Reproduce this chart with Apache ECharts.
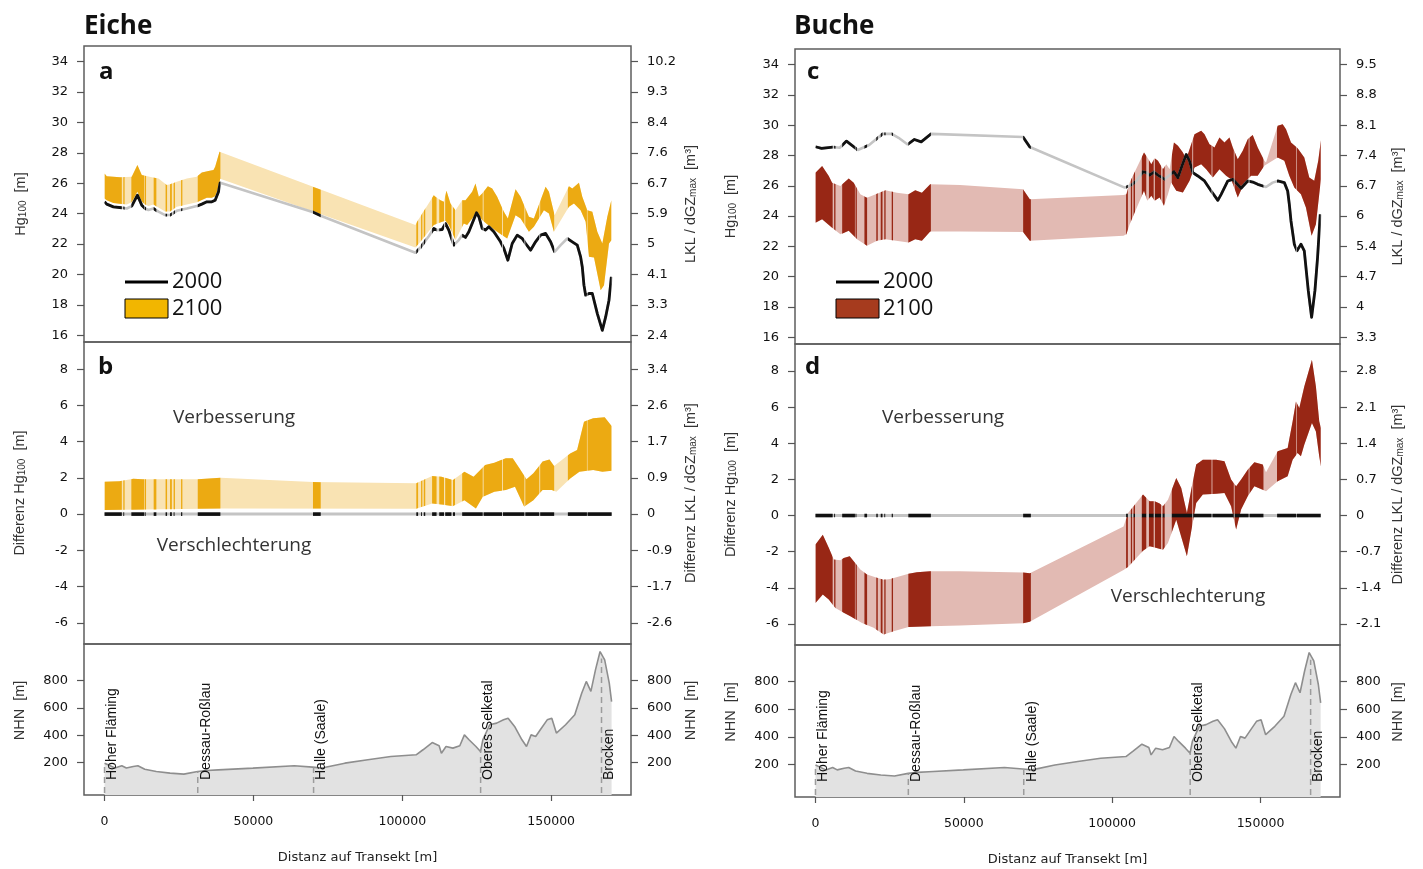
<!DOCTYPE html>
<html><head><meta charset="utf-8">
<script src="https://cdn.jsdelivr.net/npm/echarts@6/dist/echarts.min.js"></script>
<style>html,body{margin:0;padding:0;background:#fff}#c{width:1423px;height:869px}</style>
</head><body><div id="c"></div>
<script>
// ---------------- DATA ----------------
const TRANSECT = [0, 170300];
// stretches of the transect with simulated stands (drawn dark / black)
const SEGMENTS = [
  [0,5800],[6300,6600],[9000,13300],[13500,13800],[16500,17400],[20500,21000],[22000,22600],[23200,23500],
  [25700,26100],[31300,38900],[70000,72600],[104700,105300],[106300,106600],[107200,107700],
  [110000,111500],[112400,114000],[114400,116500],[117000,117700],
  [120100,127000],[127300,133500],[133800,141000],[141300,146000],[146300,151000],
  [155600,162000],[162200,170300]
];
const X_TICKS = [0, 50000, 100000, 150000];
const HG_TICKS = [16,18,20,22,24,26,28,30,32,34];
const LKL_EICHE_LABELS = ['2.4','3.3','4.1','5','5.9','6.7','7.6','8.4','9.3','10.2'];
const LKL_BUCHE_LABELS = ['3.3','4','4.7','5.4','6','6.7','7.4','8.1','8.8','9.5'];
const DIFF_TICKS = [-6,-4,-2,0,2,4,6,8];
const DIFF_LKL_EICHE_LABELS = ['-2.6','-1.7','-0.9','0','0.9','1.7','2.6','3.4'];
const DIFF_LKL_BUCHE_LABELS = ['-2.1','-1.4','-0.7','0','0.7','1.4','2.1','2.8'];
const NHN_TICKS = [200,400,600,800];

// Eiche (oak)
const EICHE_2000 = [[0,24.78],[730,24.63],[2970,24.45],[5770,24.39],[7450,24.34],[9130,24.5],[11040,25.22],[12500,24.56],[13620,24.34],[14740,24.24],[16420,24.34],[18100,24.13],[20340,23.91],[22020,23.91],[24260,24.19],[27630,24.34],[30990,24.5],[32670,24.63],[34350,24.78],[36030,24.78],[37150,24.89],[38270,25.44],[38830,26.03],
  [70100,24.1],[72800,23.85],
  [104400,21.43],[106090,21.78],[108890,22.52],[110570,23.03],[111690,22.92],[113370,22.96],[114490,23.36],[115610,22.92],[117290,21.93],[118970,22.26],[120090,22.59],[121220,22.44],[122340,22.81],[123460,23.36],[124920,24.06],[125700,23.8],[126820,23.03],[127940,22.92],[129060,23.14],[130740,22.81],[132980,22.15],[134110,21.71],[135450,20.94],[136910,22.04],[138590,22.59],[140270,22.37],[141390,22.04],[143070,21.6],[144750,22.15],[146430,22.59],[148120,22.7],[149800,22.15],[151140,21.49],[153160,21.93],[155400,22.37],[157080,22.15],[158760,21.93],[159880,21.16],[160440,20.5],[161000,19.3],[161570,18.64],[162690,18.75],[163810,18.75],[165490,17.43],[167170,16.33],[168290,17.21],[169410,18.31],[170200,19.85]];
const EICHE_2100_UP = [[0,26.65],[730,26.47],[5210,26.39],[9130,26.43],[11040,27.2],[12500,26.54],[15860,26.39],[18100,26.32],[20900,25.88],[22020,25.94],[24260,26.1],[27630,26.32],[30990,26.43],[32670,26.71],[34910,26.8],[36590,26.87],[37150,27.09],[38610,28.07],
  [104400,23.25],[104960,23.47],[110570,25.22],[111130,25.11],[112810,24.89],[113930,24.78],[114830,25.51],[116170,24.67],[117850,24.23],[120090,24.89],[121220,24.89],[123460,25.44],[124580,25.99],[125700,25.11],[126820,25.33],[128730,25.81],[130180,25.66],[131860,25.11],[134110,24.12],[135450,23.69],[138030,25.6],[139710,25.11],[142510,23.8],[144190,23.69],[146430,24.89],[148120,25.77],[149240,25.44],[151140,23.9],[155960,25.81],[157080,25.66],[159320,26.03],[160440,25.11],[162120,24.23],[163810,24.12],[165490,22.81],[167170,22.04],[168850,23.8],[170200,24.89]];
const EICHE_2100_LO = [[0,25.0],[730,24.88],[2970,24.7],[5770,24.64],[7450,24.6],[9130,24.75],[11040,25.45],[12500,24.8],[13620,24.6],[14740,24.5],[16420,24.6],[18100,24.4],[20340,24.15],[22020,24.15],[24260,24.45],[27630,24.6],[30990,24.75],[32670,24.9],[34350,25.05],[36030,25.05],[37150,25.15],[38270,25.7],[38830,26.3],
  [104400,21.78],[106090,22.15],[110570,23.25],[113370,23.47],[114490,23.53],[115610,23.25],[117850,22.26],[120650,23.36],[121780,23.25],[123460,23.69],[125150,24.02],[126820,23.58],[128500,23.31],[131860,22.81],[135220,22.37],[138030,23.9],[139710,23.69],[142510,22.81],[144190,23.14],[147560,24.23],[149240,24.02],[150920,22.81],[155960,24.45],[157640,24.67],[159880,24.23],[161570,23.47],[162690,21.16],[164370,21.12],[166610,18.97],[167730,19.3],[169410,22.04],[170200,22.26]];
const EICHE_DIFF_UP = [[0,1.79],[5020,1.82],[9650,1.95],[12740,1.92],[23550,1.92],[31270,1.92],[38990,2.0],[69890,1.77],[104640,1.7],[110040,2.1],[113130,2.06],[116990,1.88],[120850,2.34],[123940,2.06],[127810,2.71],[130900,2.84],[134760,3.08],[137080,3.08],[139390,2.52],[141710,1.92],[144020,2.25],[147110,2.9],[149430,3.02],[150970,2.65],[156380,3.35],[158700,3.54],[161020,5.1],[164100,5.29],[167960,5.35],[170280,4.87]];
const EICHE_DIFF_LO = [[0,0.22],[38990,0.31],[104640,0.3],[110040,0.59],[113130,0.53],[116990,0.44],[120850,0.77],[124720,0.31],[127030,0.96],[130900,1.24],[134760,1.33],[137840,1.51],[140930,0.41],[144020,0.77],[147110,1.33],[150200,1.33],[151740,1.24],[156380,1.97],[159470,2.34],[164100,2.43],[167190,2.34],[170280,2.4]];

// Buche (beech)
const BUCHE_2000 = [[0,28.58],[2070,28.47],[5880,28.56],[8170,28.51],[10460,28.95],[14280,28.36],[18090,28.69],[22670,29.43],[25720,29.43],[28010,29.17],[31060,28.73],[33350,29.06],[35640,28.9],[38990,29.43],[69960,29.22],[72250,28.56],
  [104240,25.88],[106480,26.05],[108160,26.32],[110400,26.93],[111520,26.87],[112640,26.71],[114100,26.91],[115440,26.71],[117690,26.43],[119370,26.71],[120830,26.93],[122170,26.54],[123520,27.31],[124970,28.07],[126090,27.63],[127210,26.87],[128890,26.65],[131130,26.32],[133370,25.66],[135620,25.04],[136740,25.44],[138980,26.32],[140660,26.43],[143460,25.84],[145700,26.32],[147380,26.25],[149060,26.1],[151860,25.92],[154100,26.21],[155800,26.32],[158040,26.21],[159160,25.66],[159720,24.78],[160280,23.68],[161400,22.15],[162300,21.71],[163640,22.15],[164760,21.71],[166110,19.08],[167230,17.32],[168350,19.08],[169240,21.27],[170140,24.12]];
const BUCHE_2100_UP = [[0,26.87],[2240,27.3],[4480,26.65],[5600,26.21],[8400,25.99],[11210,26.49],[12890,26.21],[15130,25.44],[17370,25.22],[20730,25.48],[23540,25.7],[27460,25.55],[31380,25.44],[33630,25.7],[35870,25.55],[38670,26.1],[48750,26.05],
  [69960,25.77],[72250,25.11],[103830,25.4],
  [104800,25.45],[105920,26.22],[110740,28.2],[111860,27.87],[113200,27.43],[114320,27.82],[115440,27.65],[117120,27.1],[118250,27.43],[119370,27.1],[120830,28.86],[122170,28.64],[123850,28.2],[124970,27.76],[126090,28.42],[127770,29.41],[130010,29.63],[131130,29.41],[132810,28.75],[134490,28.53],[136170,29.19],[137860,28.86],[139540,29.19],[140660,28.53],[142340,27.76],[144020,28.31],[145700,29.08],[147380,29.36],[149060,28.53],[151300,27.65],[151860,27.54],[155800,29.96],[157480,30.07],[158600,29.74],[160280,28.86],[162520,28.48],[164760,27.87],[166440,26.55],[168120,26.33],[169470,27.65],[170360,29.01]];
const BUCHE_2100_LO = [[0,23.57],[2240,23.79],[5600,23.24],[8400,22.8],[11210,23.03],[14010,22.48],[17370,22.04],[20730,22.37],[23540,22.48],[31380,22.26],[33630,22.48],[35870,22.37],[38670,22.98],[48750,22.98],
  [69960,22.96],[72250,22.37],[103830,22.7],
  [104800,22.81],[105920,23.47],[110740,25.67],[111860,25.01],[113200,25.34],[114320,25.01],[116000,25.23],[117460,24.68],[118810,25.45],[119930,26.22],[121610,25.67],[123850,25.56],[126090,26.33],[127770,27.21],[130010,27.43],[131690,27.1],[133930,26.55],[136170,27.1],[138420,26.66],[140100,26.44],[142340,25.23],[144580,26.22],[146820,26.66],[149060,26.66],[151300,27.32],[155800,27.87],[158040,27.65],[159720,26.66],[161400,25.89],[163640,25.45],[165320,24.57],[167230,22.7],[168680,23.47],[169800,25.45],[170360,26.44]];
const BUCHE_DIFF_UP = [[0,-1.61],[2470,-1.06],[4480,-1.79],[6160,-2.44],[8400,-2.48],[9530,-2.35],[11540,-2.26],[12890,-2.53],[15130,-2.99],[17370,-3.27],[20730,-3.45],[22980,-3.55],[25220,-3.51],[31380,-3.22],[34180,-3.14],[38670,-3.09],[48750,-3.09],
  [69960,-3.16],[72250,-3.2],[103830,-0.61],
  [105360,0.14],[110400,1.16],[112640,0.79],[114320,0.79],[116000,0.66],[117130,0.51],[118810,0.88],[121610,2.08],[123290,1.52],[125200,0.14],[126650,1.43],[128330,2.82],[130570,3.09],[135060,3.09],[137860,3.0],[140100,1.99],[141790,1.62],[143470,1.99],[145700,2.54],[147940,2.95],[150750,2.82],[151870,2.4],[155790,3.56],[159150,3.74],[160840,5.22],[161960,6.32],[163080,5.95],[164760,7.15],[167340,8.63],[168680,7.15],[169800,5.22],[170360,4.85]];
const BUCHE_DIFF_LO = [[0,-4.84],[2470,-4.38],[4480,-4.65],[6730,-5.12],[9530,-5.39],[11770,-5.58],[15690,-5.95],[19610,-6.22],[22980,-6.59],[26340,-6.41],[31380,-6.17],[38670,-6.13],[48750,-6.09],
  [69960,-5.97],[72250,-5.88],[103830,-3.01],
  [105360,-2.85],[110400,-1.95],[112640,-1.7],[117130,-1.89],[118810,-1.52],[121610,-0.23],[125200,-2.26],[126650,-0.87],[128330,0.7],[130570,1.16],[135060,1.21],[137860,1.25],[140100,0.51],[141790,-0.78],[143470,0.33],[145700,1.07],[147940,1.62],[150750,1.43],[151870,1.34],[155790,1.9],[159150,2.17],[160840,3.09],[162500,3.46],[163630,3.28],[164760,3.92],[167340,5.12],[168680,4.66],[169800,3.28],[170360,2.72]];

// elevation profile along the transect
const NHN_PROFILE = [[0,195],[1160,183],[3470,159],[5790,176],[7330,159],[9650,171],[11200,176],[13510,151],[17380,134],[22010,122],[26640,115],[31270,134],[34360,141],[38220,146],[49810,159],[63710,176],[69890,166],[72980,159],[80700,195],[88420,220],[96140,244],[104640,256],[106950,293],[110040,346],[112360,322],[113130,268],[114680,317],[116990,305],[119310,322],[120850,402],[122400,366],[124720,317],[126260,280],[127040,366],[129350,476],[131670,488],[133990,512],[135530,524],[137840,459],[140170,366],[141710,317],[143250,402],[144790,390],[146340,439],[148660,512],[150200,524],[151740,415],[154830,476],[157920,549],[160240,707],[161780,793],[163330,720],[164870,878],[166410,1012],[167960,951],[169500,780],[170280,646]];
const PLACE_NAMES = ['Hoher Fläming','Dessau-Roßlau','Halle (Saale)','Oberes Selketal','Brocken'];
const PLACE_X = [0, 31300, 70200, 126300, 166900];
const PLACE_H = [195, 134, 163, 285, 960];

// ---------------- SETTINGS ----------------
const X_RANGE = [-6900, 176800];
const HG_RANGE = [15.56, 35.03];
const DIFF_RANGE = [-7.17, 9.5];
const NHN_RANGE = [-38, 1067];
const TICK_FONT = 'DejaVu Sans';
const NAME_FONT = 'Liberation Sans';
const C = {
  eicheDark:'#ECAA12', eicheLight:'#F9E3B3', eicheLegend:'#F2B600',
  bucheDark:'#982715', bucheLight:'#E2BAB3', bucheLegend:'#A63B1E',
  line2000:'#111111', lineGap:'#c4c4c4', frame:'#5e5e5e'
};

const gridBase = {show:true, borderColor:C.frame, borderWidth:1.5, backgroundColor:'transparent'};
const grids = [
  {left:84, top:46, width:547, height:296},
  {left:84, top:342, width:547, height:302},
  {left:84, top:644, width:547, height:151},
  {left:795, top:49, width:545, height:295},
  {left:795, top:344, width:545, height:301},
  {left:795, top:645, width:545, height:152}
].map(g => Object.assign({}, gridBase, g));

function xAxisFor(gi, showLabels) {
  return {
    type:'value', gridIndex:gi, min:X_RANGE[0], max:X_RANGE[1], position:'bottom',
    splitLine:{show:false}, axisLine:{show:false, onZero:false},
    axisTick:{show:showLabels, inside:false, customValues:X_TICKS, length:6, lineStyle:{color:'#555', width:1.2}},
    axisLabel:{show:showLabels, customValues:X_TICKS, margin:20, fontFamily:TICK_FONT, fontSize:12.5, color:'#111',
      formatter: v => String(v)},
    name: showLabels ? 'Distanz auf Transekt [m]' : '', nameLocation:'middle', nameGap:56,
    nameTextStyle:{fontFamily:TICK_FONT, fontSize:13, color:'#222'}
  };
}
function nameStyle(padding) {
  return {fontFamily:NAME_FONT, fontSize:14.5, color:'#333', padding:padding,
    rich:{s:{fontFamily:NAME_FONT, fontSize:10, color:'#333', verticalAlign:'bottom'}}};
}
function yAxisFor(gi, pos, range, ticks, labels, name, gap, padding) {
  return {
    type:'value', gridIndex:gi, position:pos, min:range[0], max:range[1],
    splitLine:{show:false}, axisLine:{show:false, onZero:false},
    axisTick:{show:true, inside:false, customValues:ticks, length:7, lineStyle:{color:'#555', width:1.2}},
    axisLabel:{customValues:ticks, margin:16, fontFamily:TICK_FONT, fontSize:13, color:'#111',
      formatter: function (v) {
        if (!labels) return String(v);
        for (let i = 0; i < ticks.length; i++) if (Math.abs(ticks[i] - v) < 1e-6) return labels[i];
        return '';
      }},
    name:name, nameLocation:'middle', nameGap:gap, nameRotate:90, nameMoveOverlap:false,
    nameTextStyle:nameStyle(padding || [0,0,0,0])
  };
}
const PAD_DOWN = [0,20,0,0];   // shifts rotated name down
const PAD_UP = [0,0,0,18];     // shifts rotated name up

const xAxes = [0,1,2,3,4,5].map(i => xAxisFor(i, i === 2 || i === 5));
const yAxes = [
  yAxisFor(0,'left',HG_RANGE,HG_TICKS,null,'Hg{s|100}  [m]',56,PAD_DOWN),
  yAxisFor(0,'right',HG_RANGE,HG_TICKS,LKL_EICHE_LABELS,'LKL / dGZ{s|max}  [m³]',52,PAD_DOWN),
  yAxisFor(1,'left',DIFF_RANGE,DIFF_TICKS,null,'Differenz Hg{s|100}  [m]',57),
  yAxisFor(1,'right',DIFF_RANGE,DIFF_TICKS,DIFF_LKL_EICHE_LABELS,'Differenz LKL / dGZ{s|max}  [m³]',52),
  yAxisFor(2,'left',NHN_RANGE,NHN_TICKS,null,'NHN  [m]',57,PAD_UP),
  yAxisFor(2,'right',NHN_RANGE,NHN_TICKS,null,'NHN  [m]',52,PAD_UP),
  yAxisFor(3,'left',HG_RANGE,HG_TICKS,null,'Hg{s|100}  [m]',57,PAD_DOWN),
  yAxisFor(3,'right',HG_RANGE,HG_TICKS,LKL_BUCHE_LABELS,'LKL / dGZ{s|max}  [m³]',50,PAD_DOWN),
  yAxisFor(4,'left',DIFF_RANGE,DIFF_TICKS,null,'Differenz Hg{s|100}  [m]',57),
  yAxisFor(4,'right',DIFF_RANGE,DIFF_TICKS,DIFF_LKL_BUCHE_LABELS,'Differenz LKL / dGZ{s|max}  [m³]',50),
  yAxisFor(5,'left',NHN_RANGE,NHN_TICKS,null,'NHN  [m]',57,PAD_UP),
  yAxisFor(5,'right',NHN_RANGE,NHN_TICKS,null,'NHN  [m]',50,PAD_UP)
];

function segData() { return SEGMENTS.map(s => [s[0], s[1], 0]); }
function clipRect(params, api) {
  const a = api.coord([api.value(0), 0])[0], b = api.coord([api.value(1), 0])[0];
  const cs = params.coordSys;
  return {type:'rect', shape:{x:a, y:cs.y - 5, width:Math.max(b - a, 1.3), height:cs.height + 10}};
}
function bandSeries(gi, up, lo, light, dark) {
  const pts = api => {
    const p = up.map(d => api.coord(d));
    for (let i = lo.length - 1; i >= 0; i--) p.push(api.coord(lo[i]));
    return p;
  };
  return [
    {type:'custom', xAxisIndex:gi, yAxisIndex:2*gi, silent:true, z:2, clip:true,
      data:[[TRANSECT[0], TRANSECT[1], 0]], encode:{x:[0,1], y:2},
      renderItem:(params, api) => ({type:'polygon', shape:{points:pts(api)}, style:{fill:light}})},
    {type:'custom', xAxisIndex:gi, yAxisIndex:2*gi, silent:true, z:3, clip:true,
      data:segData(), encode:{x:[0,1], y:2},
      renderItem:(params, api) => ({type:'polygon', shape:{points:pts(api)}, style:{fill:dark},
        clipPath:clipRect(params, api)})}
  ];
}
function line2000Series(gi, pts) {
  return [
    {type:'line', xAxisIndex:gi, yAxisIndex:2*gi, data:pts, symbol:'none', silent:true, z:4,
      lineStyle:{color:C.lineGap, width:2.6}},
    {type:'custom', xAxisIndex:gi, yAxisIndex:2*gi, silent:true, z:5, clip:true,
      data:segData(), encode:{x:[0,1], y:2},
      renderItem:(params, api) => ({type:'polyline', shape:{points:pts.map(d => api.coord(d))},
        style:{stroke:C.line2000, lineWidth:2.8, fill:null, lineJoin:'round'},
        clipPath:clipRect(params, api)})}
  ];
}
function zeroSeries(gi) {
  return [
    {type:'line', xAxisIndex:gi, yAxisIndex:2*gi, data:[[TRANSECT[0],0],[TRANSECT[1],0]], symbol:'none', silent:true, z:4,
      lineStyle:{color:C.lineGap, width:3}},
    {type:'custom', xAxisIndex:gi, yAxisIndex:2*gi, silent:true, z:5, clip:true,
      data:segData(), encode:{x:[0,1], y:2},
      renderItem:(params, api) => {
        const a = api.coord([api.value(0), 0]), b = api.coord([api.value(1), 0]);
        return {type:'line', shape:{x1:a[0], y1:a[1], x2:b[0], y2:b[1]}, style:{stroke:C.line2000, lineWidth:3.6}};
      }}
  ];
}
function terrainSeries(gi) {
  return [
    {type:'line', xAxisIndex:gi, yAxisIndex:2*gi, data:NHN_PROFILE, symbol:'none', silent:true, z:2,
      lineStyle:{color:'#8e8e8e', width:1.6}, areaStyle:{color:'#e2e2e2', opacity:1, origin:'start'}},
    {type:'custom', xAxisIndex:gi, yAxisIndex:2*gi, silent:true, z:6, clip:false,
      data:PLACE_X.map((x, i) => [x, PLACE_H[i], i]), encode:{x:0, y:1},
      renderItem:(params, api) => {
        const i = api.value(2);
        const base = api.coord([api.value(0), NHN_RANGE[0]]);
        const top = api.coord([api.value(0), api.value(1)]);
        return {type:'group', children:[
          {type:'line', shape:{x1:base[0], y1:base[1] - 2, x2:top[0], y2:top[1]},
            style:{stroke:'#9c9c9c', lineWidth:1.5, lineDash:[6,4]}},
          {type:'text', x:base[0] + 8, y:base[1] - 15, rotation:Math.PI / 2,
            style:{text:PLACE_NAMES[i], font:'14px "Liberation Sans", Arial, sans-serif', fill:'#111',
              align:'left', verticalAlign:'middle'}}
        ]};
      }}
  ];
}

const series = [].concat(
  bandSeries(0, EICHE_2100_UP, EICHE_2100_LO, C.eicheLight, C.eicheDark),
  line2000Series(0, EICHE_2000),
  bandSeries(1, EICHE_DIFF_UP, EICHE_DIFF_LO, C.eicheLight, C.eicheDark),
  zeroSeries(1),
  terrainSeries(2),
  bandSeries(3, BUCHE_2100_UP, BUCHE_2100_LO, C.bucheLight, C.bucheDark),
  line2000Series(3, BUCHE_2000),
  bandSeries(4, BUCHE_DIFF_UP, BUCHE_DIFF_LO, C.bucheLight, C.bucheDark),
  zeroSeries(4),
  terrainSeries(5)
);

const OS = '"Open Sans", "Noto Sans", sans-serif';
function txt(x, y, text, font, align, fill) {
  return {type:'text', x:x, y:y, z:100, silent:true,
    style:{text:text, font:font, fill:fill || '#111', align:align || 'left', verticalAlign:'middle'}};
}
function legend(x, color) {
  return [
    {type:'line', z:100, silent:true, shape:{x1:x, y1:282, x2:x + 43, y2:282}, style:{stroke:'#000', lineWidth:3.2}},
    {type:'rect', z:100, silent:true, shape:{x:x, y:299, width:43, height:19}, style:{fill:color, stroke:'#000', lineWidth:1}},
    txt(x + 47, 282, '2000', '22px ' + OS),
    txt(x + 47, 309, '2100', '22px ' + OS)
  ];
}
const graphic = [
  txt(84, 27, 'Eiche', 'bold 26px ' + OS),
  txt(794, 27, 'Buche', 'bold 26px ' + OS),
  txt(99, 72, 'a', 'bold 24px ' + OS),
  txt(98, 367, 'b', 'bold 24px ' + OS),
  txt(807, 72, 'c', 'bold 24px ' + OS),
  txt(805, 367, 'd', 'bold 24px ' + OS),
  txt(234, 418, 'Verbesserung', '19px ' + OS, 'center', '#333'),
  txt(234, 546, 'Verschlechterung', '19px ' + OS, 'center', '#333'),
  txt(943, 418, 'Verbesserung', '19px ' + OS, 'center', '#333'),
  txt(1188, 597, 'Verschlechterung', '19px ' + OS, 'center', '#333')
].concat(legend(125, C.eicheLegend), legend(836, C.bucheLegend));

const chart = echarts.init(document.getElementById('c'), null, {renderer:'canvas'});
chart.setOption({
  animation:false,
  backgroundColor:'#fff',
  grid:grids,
  xAxis:xAxes,
  yAxis:yAxes,
  series:series,
  graphic:graphic
});
</script>
</body></html>
